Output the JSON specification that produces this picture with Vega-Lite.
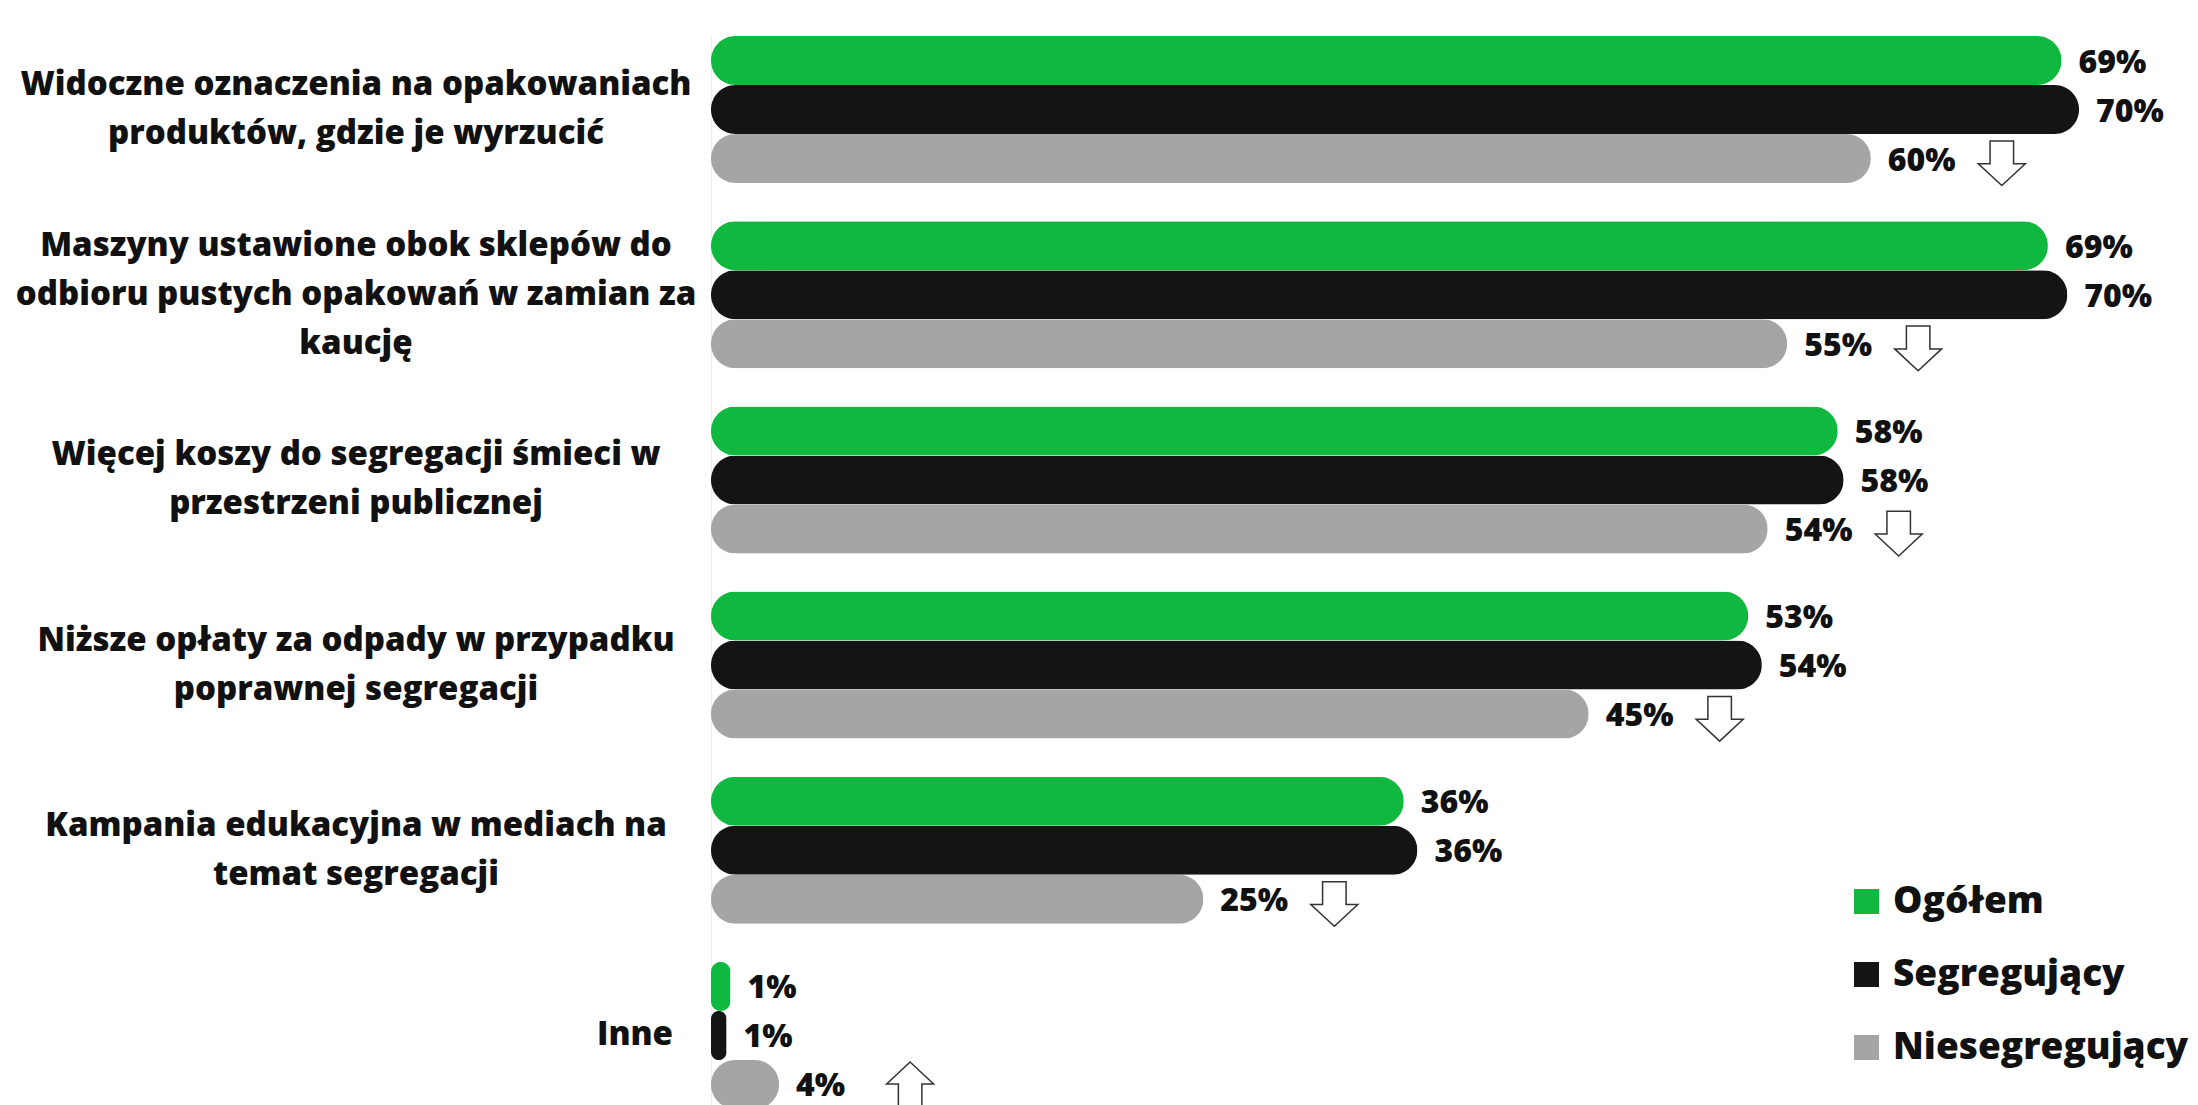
{
  "$schema": "https://vega.github.io/schema/vega-lite/v6.json",
  "autosize": "none",
  "width": 1459.5,
  "height": 1073,
  "padding": {"left": 711, "top": 36, "right": 27.5, "bottom": 0},
  "background": "white",
  "config": {"view": {"stroke": null}, "font": "Open Sans"},
  "data": {
    "values": [
      {"item": "Widoczne oznaczenia na opakowaniach|produktów, gdzie je wyrzucić", "group": "Ogółem", "value": 69.4, "label": "69%", "trend": null},
      {"item": "Widoczne oznaczenia na opakowaniach|produktów, gdzie je wyrzucić", "group": "Segregujący", "value": 70.3, "label": "70%", "trend": null},
      {"item": "Widoczne oznaczenia na opakowaniach|produktów, gdzie je wyrzucić", "group": "Niesegregujący", "value": 59.6, "label": "60%", "trend": "down"},
      {"item": "Maszyny ustawione obok sklepów do|odbioru pustych opakowań w zamian za|kaucję", "group": "Ogółem", "value": 68.7, "label": "69%", "trend": null},
      {"item": "Maszyny ustawione obok sklepów do|odbioru pustych opakowań w zamian za|kaucję", "group": "Segregujący", "value": 69.7, "label": "70%", "trend": null},
      {"item": "Maszyny ustawione obok sklepów do|odbioru pustych opakowań w zamian za|kaucję", "group": "Niesegregujący", "value": 55.3, "label": "55%", "trend": "down"},
      {"item": "Więcej koszy do segregacji śmieci w|przestrzeni publicznej", "group": "Ogółem", "value": 57.9, "label": "58%", "trend": null},
      {"item": "Więcej koszy do segregacji śmieci w|przestrzeni publicznej", "group": "Segregujący", "value": 58.2, "label": "58%", "trend": null},
      {"item": "Więcej koszy do segregacji śmieci w|przestrzeni publicznej", "group": "Niesegregujący", "value": 54.3, "label": "54%", "trend": "down"},
      {"item": "Niższe opłaty za odpady w przypadku|poprawnej segregacji", "group": "Ogółem", "value": 53.3, "label": "53%", "trend": null},
      {"item": "Niższe opłaty za odpady w przypadku|poprawnej segregacji", "group": "Segregujący", "value": 54.0, "label": "54%", "trend": null},
      {"item": "Niższe opłaty za odpady w przypadku|poprawnej segregacji", "group": "Niesegregujący", "value": 45.1, "label": "45%", "trend": "down"},
      {"item": "Kampania edukacyjna w mediach na|temat segregacji", "group": "Ogółem", "value": 35.6, "label": "36%", "trend": null},
      {"item": "Kampania edukacyjna w mediach na|temat segregacji", "group": "Segregujący", "value": 36.3, "label": "36%", "trend": null},
      {"item": "Kampania edukacyjna w mediach na|temat segregacji", "group": "Niesegregujący", "value": 25.3, "label": "25%", "trend": "down"},
      {"item": "Inne", "group": "Ogółem", "value": 1.0, "label": "1%", "trend": null},
      {"item": "Inne", "group": "Segregujący", "value": 0.8, "label": "1%", "trend": null},
      {"item": "Inne", "group": "Niesegregujący", "value": 3.5, "label": "4%", "trend": "up"}
    ]
  },
  "encoding": {
    "y": {
      "field": "item",
      "type": "nominal",
      "sort": null,
      "scale": {"paddingInner": 0.206, "paddingOuter": 0},
      "axis": {
        "title": null,
        "domain": true,
        "domainColor": "#ececec",
        "ticks": false,
        "grid": false,
        "labels": false
      }
    },
    "x": {"field": "value", "type": "quantitative", "scale": {"domain": [0, 75], "nice": false, "zero": true}, "axis": null}
  },
  "layer": [
    {
      "mark": {"type": "bar", "cornerRadius": 24.5},
      "encoding": {
        "yOffset": {"field": "group", "type": "nominal", "sort": ["Ogółem", "Segregujący", "Niesegregujący"], "scale": {"paddingInner": 0, "paddingOuter": 0}},
        "color": {
          "field": "group",
          "type": "nominal",
          "sort": ["Ogółem", "Segregujący", "Niesegregujący"],
          "scale": {"domain": ["Ogółem", "Segregujący", "Niesegregujący"], "range": ["#0fb83f", "#141414", "#a5a5a5"]},
          "legend": {
            "orient": "none",
            "legendX": 1137,
            "legendY": 847,
            "title": null,
            "symbolType": "square",
            "symbolSize": 625,
            "symbolStrokeWidth": 0,
            "symbolOpacity": 1,
            "labelFont": "Open Sans",
            "labelFontSize": 37,
            "labelFontWeight": 800,
            "labelColor": "#111111",
            "labelOffset": 8,
            "labelLimit": 0,
            "rowPadding": 35,
            "padding": 0
          }
        }
      }
    },
    {
      "mark": {"type": "text", "align": "left", "baseline": "middle", "dx": 17, "dy": 2, "fontSize": 32, "fontWeight": 800, "font": "Open Sans", "color": "#111111"},
      "encoding": {
        "yOffset": {"field": "group", "type": "nominal", "sort": ["Ogółem", "Segregujący", "Niesegregujący"]},
        "text": {"field": "label", "type": "nominal"}
      }
    },
    {
      "transform": [{"filter": "datum.trend != null"}],
      "mark": {"type": "point", "filled": true, "fill": "#ffffff", "stroke": "#333333", "strokeWidth": 1.5, "opacity": 1, "size": 2209, "xOffset": 131},
      "encoding": {
        "yOffset": {"field": "group", "type": "nominal", "sort": ["Ogółem", "Segregujący", "Niesegregujący"]},
        "shape": {
          "field": "trend",
          "type": "nominal",
          "scale": {"domain": ["down", "up"], "range": ["M-0.5,-0.75L0.5,-0.75L0.5,0.22L1,0.22L0,1.15L-1,0.22L-0.5,0.22Z", "M0,-0.96L1,-0.02L0.5,-0.02L0.5,0.96L-0.5,0.96L-0.5,-0.02L-1,-0.02Z"]},
          "legend": null
        }
      }
    },
    {
      "transform": [{"filter": "datum.group === 'Ogółem'"}],
      "mark": {
        "type": "text",
        "lineBreak": "|",
        "lineHeight": 49,
        "font": "Open Sans",
        "fontSize": 33,
        "fontWeight": 800,
        "color": "#111111",
        "baseline": "middle",
        "align": {"expr": "datum.item === 'Inne' ? 'right' : 'center'"},
        "dx": {"expr": "datum.item === 'Inne' ? -38 : -355"},
        "dy": {"expr": "-(length(split(datum.item, '|')) - 1) * 24.5"}
      },
      "encoding": {
        "x": {"datum": 0, "type": "quantitative"},
        "text": {"field": "item", "type": "nominal"}
      }
    }
  ]
}
